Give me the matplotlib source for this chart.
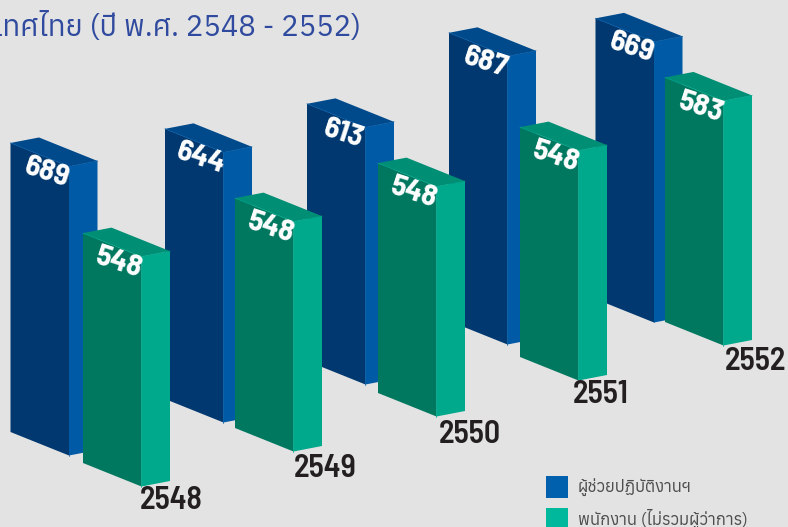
import matplotlib
matplotlib.use("Agg")
import matplotlib.pyplot as plt

# Data
years = ["2548", "2549", "2550", "2551", "2552"]
assistants = [689, 644, 613, 687, 669]
staff = [548, 548, 548, 548, 583]
title_text = "ประเทศไทย (ปี พ.ศ. 2548 - 2552)"
legend_labels = ["ผู้ช่วยปฏิบัติงานฯ", "พนักงาน (ไม่รวมผู้ว่าการ)"]

# Layout in pixels of the 788x527 picture
W, H = 788, 527
PX_PER_UNIT = 0.4195
blue_left = [10.5, 165, 307, 449, 595.5]
blue_base = [432, 399, 361, 321, 299]
green_left = [83, 235, 378, 520, 665]
green_base = [463, 428, 393, 357, 322]
year_dx = [30, 32, 33, 22, 32]
year_dy = [14, 17, 18, 14, 16]

BG = "#e3e3e3"
BLUE = ("#00386f", "#005aa5", "#004a8c")
GREEN = ("#007860", "#00a88c", "#008f74")
NUM_FONT = ["Barlow Semi Condensed", "Roboto", "DejaVu Sans"]
THAI_FONT = ["Anuphan", "Loma", "DejaVu Sans"]


def py(px):
    # pixels from the top -> value units on the y axis
    return (H - px) / PX_PER_UNIT


def draw_bar(ax, left, base_px, value, colors, order):
    front, side, top = colors
    w, drop = 58.5, 23.5 / PX_PER_UNIT
    dx, rise = 28.5, 5.5 / PX_PER_UNIT
    y0 = py(base_px)
    y1 = y0 + value
    r = left + w
    ax.fill([left, r, r, left], [y0, y0 - drop, y1 - drop, y1], color=front, lw=0, zorder=order)
    ax.fill([r, r + dx, r + dx, r], [y0 - drop, y0 - drop + rise, y1 - drop + rise, y1 - drop],
            color=side, lw=0, zorder=order)
    ax.fill([left, r, r + dx, left + dx], [y1, y1 - drop, y1 - drop + rise, y1 + rise],
            color=top, lw=0, zorder=order)
    ax.plot([left, r, r + dx], [y1, y1 - drop, y1 - drop + rise], color=side, lw=0.5, zorder=order)
    ax.plot([r, r], [y0 - drop, y1 - drop], color=side, lw=0.5, zorder=order)
    ax.text(left + 36, y1 - 30 / PX_PER_UNIT, str(value), color="white", fontsize=22.5,
            fontweight="bold", family=NUM_FONT, rotation=-18, ha="center", va="center",
            zorder=order)


fig = plt.figure(figsize=(W / 100, H / 100), dpi=100, facecolor=BG)
ax = fig.add_axes([0, 0, 1, 1])
ax.set_xlim(0, W)
ax.set_ylim(0, H / PX_PER_UNIT)
ax.axis("off")

for i in reversed(range(len(years))):
    order = 10 + 2 * (len(years) - i)
    draw_bar(ax, blue_left[i], blue_base[i], assistants[i], BLUE, order)
    draw_bar(ax, green_left[i], green_base[i], staff[i], GREEN, order + 1)
    ax.text(green_left[i] + 58.5 + year_dx[i], py(green_base[i] + 23.5 + year_dy[i]), years[i],
            color="#231f20", fontsize=23, fontweight="semibold", family=NUM_FONT,
            ha="center", va="center", zorder=40)

ax.text(361, py(27), title_text, color="#2f4a9e", fontsize=21, fontweight="medium",
        family=THAI_FONT, ha="right", va="center")

# Legend
for y, c, label in zip([487, 519], ["#0060ae", "#00b89c"], legend_labels):
    ax.fill([546, 568, 568, 546], [py(y - 11), py(y - 11), py(y + 11), py(y + 11)], color=c, lw=0)
    ax.text(578, py(y), label, color="#4d4d4d", fontsize=12, family=THAI_FONT,
            fontweight="light", va="center")

fig.savefig("out.png", dpi=100, facecolor=BG)
